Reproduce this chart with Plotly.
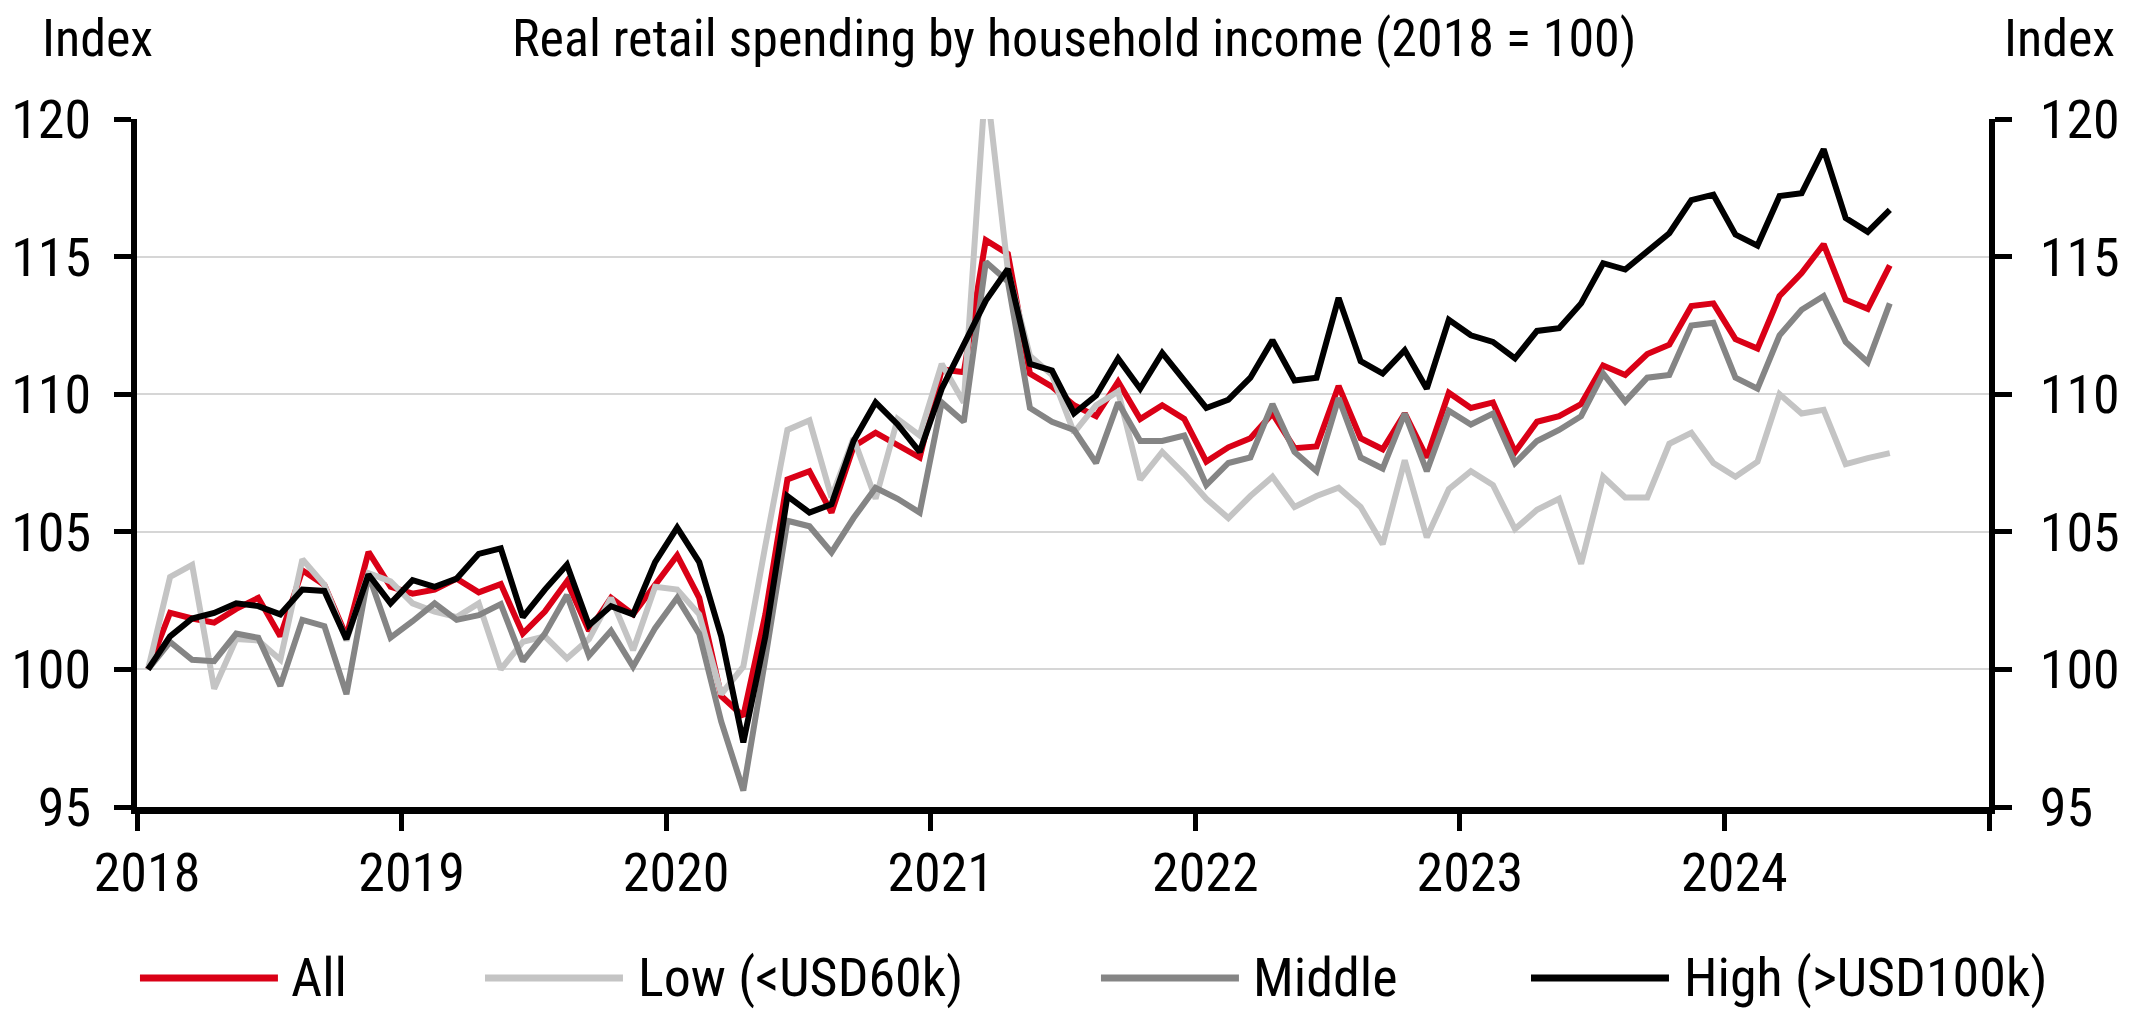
import numpy as np
import plotly.graph_objects as go

# ---------------- data ----------------
months = [f"{y}-{m:02d}" for y in range(2018, 2025) for m in range(1, 13)][:80]
year_labels = ["2018", "2019", "2020", "2021", "2022", "2023", "2024"]

all_hh = [100, 102.06, 101.85, 101.7, 102.2, 102.6, 101.2, 103.6, 103.07, 101.2, 104.27, 103.0,
          102.75, 102.9, 103.3, 102.8, 103.1, 101.3, 102.1, 103.2, 101.4, 102.6, 102.0, 103.1,
          104.14, 102.6, 99.03, 98.3, 102.0, 106.9, 107.2, 105.7, 108.1, 108.6, 108.16, 107.7,
          110.9, 110.8, 115.6, 115.1, 110.75, 110.27, 109.6, 109.2, 110.45, 109.1, 109.6, 109.1,
          107.55, 108.07, 108.4, 109.3, 108.04, 108.1, 110.3, 108.4, 108.0, 109.3, 107.7, 110.05,
          109.5, 109.7, 107.9, 109.0, 109.2, 109.64, 111.04, 110.7, 111.46, 111.8, 113.2, 113.3,
          112.0, 111.66, 113.57, 114.4, 115.45, 113.43, 113.1, 114.68]

low_inc = [100, 103.36, 103.8, 99.3, 101.1, 101.05, 100.35, 104.0, 103.07, 101.05, 103.5, 103.2,
           102.4, 102.1, 101.9, 102.4, 100.0, 101.0, 101.2, 100.4, 101.1, 102.6, 100.7, 103.0,
           102.9, 102.0, 99.1, 100.1, 104.5, 108.7, 109.05, 106.25, 108.4, 106.2, 109.1, 108.5,
           111.1, 109.7, 121.5, 114.5, 111.4, 110.7, 108.6, 109.6, 110.1, 106.9, 107.9, 107.1,
           106.2, 105.5, 106.3, 107.0, 105.9, 106.3, 106.6, 105.9, 104.55, 107.6, 104.8, 106.55,
           107.2, 106.7, 105.1, 105.8, 106.2, 103.84, 107.0, 106.25, 106.25, 108.2, 108.6, 107.5,
           107.0, 107.55, 110.0, 109.3, 109.43, 107.46, 107.68, 107.86]

mid_inc = [100, 101.0, 100.35, 100.3, 101.3, 101.15, 99.4, 101.8, 101.57, 99.1, 103.45, 101.15,
           101.75, 102.4, 101.8, 101.97, 102.37, 100.3, 101.3, 102.7, 100.5, 101.4, 100.1, 101.5,
           102.6, 101.3, 98.1, 95.6, 100.4, 105.4, 105.2, 104.25, 105.5, 106.6, 106.2, 105.7,
           109.7, 109.0, 114.8, 114.1, 109.5, 109.0, 108.7, 107.5, 109.7, 108.3, 108.3, 108.5,
           106.7, 107.5, 107.7, 109.64, 107.9, 107.2, 109.86, 107.7, 107.3, 109.3, 107.2, 109.4,
           108.9, 109.3, 107.5, 108.3, 108.7, 109.2, 110.75, 109.73, 110.6, 110.7, 112.5, 112.6,
           110.6, 110.2, 112.14, 113.07, 113.57, 111.9, 111.16, 113.3]

high_inc = [100, 101.2, 101.85, 102.05, 102.4, 102.3, 102.0, 102.9, 102.85, 101.1, 103.45, 102.4,
            103.24, 103.0, 103.3, 104.2, 104.4, 101.9, 102.9, 103.8, 101.6, 102.3, 102.0, 103.9,
            105.15, 103.9, 101.2, 97.35, 101.2, 106.3, 105.7, 106.0, 108.3, 109.7, 108.9, 107.9,
            110.2, 111.8, 113.4, 114.55, 111.1, 110.86, 109.3, 109.95, 111.3, 110.2, 111.5, 110.5,
            109.5, 109.8, 110.6, 111.96, 110.5, 110.6, 113.5, 111.2, 110.75, 111.6, 110.2, 112.7,
            112.14, 111.9, 111.3, 112.3, 112.4, 113.3, 114.76, 114.53, 115.2, 115.85, 117.05, 117.25,
            115.8, 115.4, 117.2, 117.3, 118.9, 116.4, 115.9, 116.7]

series_names = ["All", "Low (<USD60k)", "Middle", "High (>USD100k)"]
series_vals = [all_hh, low_inc, mid_inc, high_inc]
series_colors = ["#DA0016", "#C4C4C4", "#858585", "#000000"]

# ---------------- figure ----------------
FONT = "Roboto Condensed, Liberation Sans Narrow, Arial Narrow, sans-serif"
FS = 54

# category positions: each month sits in the middle of its slot
x = np.arange(len(months)) + 0.5
n_slots = len(year_labels) * 12

fig = go.Figure()
for name, vals, col in zip(series_names, series_vals, series_colors):
    fig.add_trace(go.Scatter(x=x, y=vals, mode="lines", name=name,
                             line=dict(color=col, width=6), showlegend=False,
                             hovertext=months))

axis_common = dict(range=[95, 120], tick0=95, dtick=5, ticks="outside", ticklen=17,
                   tickwidth=5, tickcolor="black", showline=True, linewidth=6,
                   linecolor="black", zeroline=False, automargin=False,
                   tickfont=dict(size=FS, family=FONT, color="black"))

fig.update_layout(
    width=2144, height=1009,
    margin=dict(l=129, r=163, t=111, b=210),
    plot_bgcolor="white", paper_bgcolor="white",
    font=dict(family=FONT, size=FS, color="black"),
    xaxis=dict(range=[0, n_slots], tickmode="array",
               tickvals=list(range(0, n_slots + 1, 12)),
               ticktext=year_labels + [""],
               ticks="outside", ticklen=17, tickwidth=5, tickcolor="black",
               showline=True, linewidth=7, linecolor="black", showgrid=False,
               zeroline=False, automargin=False,
               tickfont=dict(size=FS, family=FONT, color="black"),
               ticklabelstandoff=-5, ticklabelshift=10),
    yaxis=dict(**axis_common, side="left", showgrid=True, gridcolor="#D6D6D6", gridwidth=2,
               ticklabelstandoff=12),
    yaxis2=dict(**axis_common, side="right", overlaying="y", showgrid=False,
                ticklabelstandoff=17),
)

# invisible helper so the right axis is rendered
fig.add_trace(go.Scatter(x=[x[0]], y=[all_hh[0]], yaxis="y2", mode="lines",
                         line=dict(width=0), showlegend=False, hoverinfo="skip"))

# title and axis unit labels
TOP_Y = 1.117
fig.add_annotation(text="Real retail spending by household income (2018 = 100)",
                   xref="paper", yref="paper", x=0.506, y=TOP_Y,
                   xanchor="center", yanchor="middle", showarrow=False,
                   font=dict(size=52, family=FONT))
fig.add_annotation(text="Index", xref="paper", yref="paper", x=-0.0213, y=TOP_Y,
                   xanchor="center", yanchor="middle", showarrow=False,
                   font=dict(size=52, family=FONT))
fig.add_annotation(text="Index", xref="paper", yref="paper", x=1.0378, y=TOP_Y,
                   xanchor="center", yanchor="middle", showarrow=False,
                   font=dict(size=52, family=FONT))

# legend (drawn manually to get the long line swatches)
leg_y = -0.2485
leg_x0 = [0.0016, 0.1879, 0.5205, 0.7527]
leg_tx = [0.0821, 0.2694, 0.6015, 0.8342]
sw = 0.0745
for name, col, x0, tx in zip(series_names, series_colors, leg_x0, leg_tx):
    fig.add_shape(type="line", xref="paper", yref="paper", x0=x0, x1=x0 + sw,
                  y0=leg_y, y1=leg_y, line=dict(color=col, width=7))
    fig.add_annotation(text=name, xref="paper", yref="paper", x=tx, y=leg_y,
                       xanchor="left", yanchor="middle", showarrow=False,
                       font=dict(size=FS, family=FONT))

fig.write_html("out.html")
